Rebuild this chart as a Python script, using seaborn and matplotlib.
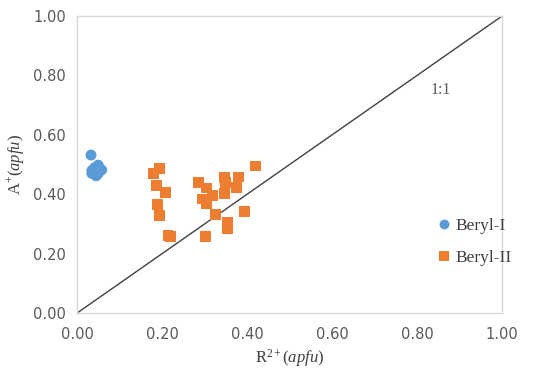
#!/usr/bin/env python3

import pandas as pd
import matplotlib
matplotlib.use("Agg")
import matplotlib.pyplot as plt
import seaborn as sns

# Data
beryl1_r = [0.033, 0.035, 0.050, 0.055, 0.045, 0.035, 0.050, 0.042, 0.058]
beryl1_a = [0.532, 0.480, 0.498, 0.480, 0.462, 0.470, 0.470, 0.490, 0.482]

beryl2_r = [0.179, 0.195, 0.188, 0.209, 0.190, 0.193, 0.219, 0.214,
            0.285, 0.305, 0.318, 0.294, 0.305, 0.325, 0.303,
            0.348, 0.350, 0.346, 0.379, 0.376, 0.393, 0.353, 0.355, 0.419]
beryl2_a = [0.471, 0.488, 0.428, 0.407, 0.364, 0.327, 0.259, 0.262,
            0.441, 0.421, 0.397, 0.384, 0.370, 0.333, 0.259,
            0.455, 0.438, 0.404, 0.458, 0.424, 0.343, 0.306, 0.286, 0.495]

groups = ["Beryl-I", "Beryl-II"]
colors = {"Beryl-I": "#5B9BD5", "Beryl-II": "#ED7D31"}
markers = {"Beryl-I": "o", "Beryl-II": "s"}

df = pd.DataFrame({
    "R": beryl1_r + beryl2_r,
    "A": beryl1_a + beryl2_a,
    "group": [groups[0]] * len(beryl1_r) + [groups[1]] * len(beryl2_r),
})

sns.set_style("white")
plt.rcParams["mathtext.fontset"] = "custom"
plt.rcParams["mathtext.rm"] = "Liberation Serif"
plt.rcParams["mathtext.it"] = "Liberation Serif:italic"

fig = plt.figure(figsize=(5.5, 3.8), dpi=100)
ax = fig.add_axes([0.14, 0.176, 0.773, 0.782])

# 1:1 line
ax.plot([0, 1], [0, 1], color="#404040", lw=1.0, zorder=1)

sns.scatterplot(data=df, x="R", y="A", hue="group", style="group",
                palette=colors, markers=markers, s=62, linewidth=0,
                ax=ax, zorder=3)

ax.set_xlim(0, 1)
ax.set_ylim(0, 1)
ticks = [0.0, 0.2, 0.4, 0.6, 0.8, 1.0]
ax.set_xticks(ticks)
ax.set_yticks(ticks)
ax.set_xticklabels([f"{t:.2f}" for t in ticks])
ax.set_yticklabels([f"{t:.2f}" for t in ticks])
ax.tick_params(axis="both", direction="in", length=4, color="#D9D9D9",
               labelsize=10.5, labelcolor="#595959", pad=8)
ax.tick_params(axis="x", pad=10)
for sp in ax.spines.values():
    sp.set_color("#D9D9D9")
    sp.set_linewidth(1.0)

ax.set_xlabel(r"R$^{2+}$($\it{apfu}$)", family="Liberation Serif",
              fontsize=12, color="#404040", labelpad=4)
ax.set_ylabel(r"A$^{+}$($\it{apfu}$)", family="Liberation Serif",
              fontsize=12, color="#404040", labelpad=4)

ax.text(0.855, 0.75, "1:1", family="Liberation Serif", fontsize=11.5,
        color="#595959", ha="center", va="center")

leg = ax.legend(loc="center left", bbox_to_anchor=(0.785, 0.24), frameon=False,
                handletextpad=-0.3, labelspacing=0.9, markerscale=0.9,
                prop={"family": "Liberation Serif", "size": 12.5})
for t in leg.get_texts():
    t.set_color("#404040")

fig.savefig("out.png", dpi=100)
